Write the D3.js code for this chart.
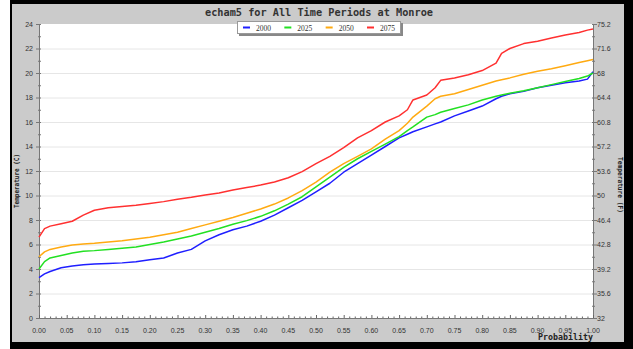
<!DOCTYPE html>
<html>
<head>
<meta charset="utf-8">
<script src="https://cdn.jsdelivr.net/npm/d3@7"></script>
<style>
body { margin: 0; background: #fff; }
svg { display: block; }
</style>
</head>
<body>
<svg id="chart"></svg>
<script>
// probability steps shared by all four periods
var prob = [0, 0.01, 0.02, 0.04, 0.06, 0.08, 0.10, 0.125, 0.15, 0.175, 0.20, 0.225, 0.25, 0.275, 0.30, 0.325, 0.35, 0.375, 0.40, 0.425, 0.45, 0.475, 0.50, 0.525, 0.55, 0.575, 0.60, 0.625, 0.65, 0.665, 0.675, 0.70, 0.715, 0.725, 0.75, 0.775, 0.80, 0.825, 0.835, 0.85, 0.875, 0.90, 0.925, 0.95, 0.975, 0.99, 1.0];

var t2000 = [3.3, 3.6, 3.8, 4.1, 4.25, 4.35, 4.4, 4.45, 4.5, 4.6, 4.75, 4.9, 5.3, 5.6, 6.3, 6.8, 7.2, 7.5, 7.9, 8.4, 9.0, 9.6, 10.3, 11.0, 11.9, 12.6, 13.3, 14.0, 14.7, 15.0, 15.2, 15.6, 15.85, 16.0, 16.5, 16.9, 17.3, 17.9, 18.1, 18.3, 18.5, 18.8, 19.0, 19.2, 19.35, 19.5, 20.1];
var t2025 = [4.0, 4.6, 4.9, 5.1, 5.3, 5.45, 5.5, 5.6, 5.7, 5.8, 6.0, 6.2, 6.45, 6.7, 7.0, 7.3, 7.65, 7.95, 8.3, 8.75, 9.3, 9.9, 10.7, 11.5, 12.3, 13.0, 13.6, 14.2, 14.8, 15.3, 15.6, 16.4, 16.6, 16.8, 17.1, 17.4, 17.8, 18.1, 18.2, 18.35, 18.55, 18.8, 19.05, 19.3, 19.55, 19.75, 20.0];
var t2050 = [5.0, 5.4, 5.6, 5.8, 5.95, 6.05, 6.1, 6.2, 6.3, 6.45, 6.6, 6.8, 7.0, 7.3, 7.6, 7.9, 8.2, 8.55, 8.9, 9.3, 9.8, 10.4, 11.1, 11.9, 12.6, 13.2, 13.8, 14.6, 15.3, 15.9, 16.4, 17.3, 17.9, 18.1, 18.3, 18.65, 19.0, 19.35, 19.45, 19.6, 19.9, 20.15, 20.35, 20.6, 20.85, 21.0, 21.1];
var t2075 = [6.6, 7.3, 7.5, 7.7, 7.9, 8.4, 8.8, 9.0, 9.1, 9.2, 9.35, 9.5, 9.7, 9.85, 10.05, 10.2, 10.45, 10.65, 10.85, 11.1, 11.45, 11.95, 12.6, 13.2, 13.9, 14.7, 15.3, 16.0, 16.5, 17.0, 17.8, 18.2, 18.8, 19.4, 19.6, 19.85, 20.2, 20.8, 21.6, 22.0, 22.4, 22.6, 22.85, 23.1, 23.3, 23.5, 23.6];

var periods = ['2000', '2025', '2050', '2075'];
var colors = ['#1f1fff', '#22e022', '#ffaa11', '#ff3030'];
var seriesValues = [t2000, t2025, t2050, t2075];

var xTicks = d3.range(0, 21).map(function(i) { return i * 0.05; });
var xMinor = d3.range(0, 101).map(function(i) { return i * 0.01; });
var cTicks = d3.range(0, 25, 2);
var cMinor = d3.range(1, 24, 2);
var fLabels = ['32', '35.6', '39.2', '42.8', '46.4', '50', '53.6', '57.2', '60.8', '64.4', '68', '71.6', '75.2'];

var W = 633, H = 349;
var pLeft = 39, pRight = 593, pTop = 24, pBottom = 318;

var svg = d3.select('#chart').attr('width', W).attr('height', H);

// frame
svg.append('rect').attr('x', 0).attr('y', 0).attr('width', W).attr('height', H).attr('fill', '#fff');
svg.append('rect').attr('x', 10).attr('y', 0).attr('width', W - 10).attr('height', H).attr('fill', '#000');
svg.append('rect').attr('x', 12).attr('y', 4).attr('width', 612).attr('height', 338).attr('fill', '#cbcbcb');
svg.append('rect').attr('x', pLeft).attr('y', pTop).attr('width', pRight - pLeft).attr('height', pBottom - pTop).attr('fill', '#fff');

var x = d3.scaleLinear().domain([0, 1]).range([pLeft, pRight]);
var y = d3.scaleLinear().domain([0, 24]).range([pBottom, pTop]);

// grid
svg.append('g').selectAll('line').data(cTicks.slice(1, -1)).enter().append('line')
    .attr('x1', pLeft).attr('x2', pRight)
    .attr('y1', function(d) { return y(d) + 0.5; }).attr('y2', function(d) { return y(d) + 0.5; })
    .attr('stroke', '#e6e6e6').attr('stroke-width', 1);

// axes lines
var axisColor = '#777';
svg.append('line').attr('x1', pLeft + 0.5).attr('x2', pLeft + 0.5).attr('y1', pTop).attr('y2', pBottom + 0.5).attr('stroke', axisColor);
svg.append('line').attr('x1', pRight + 0.5).attr('x2', pRight + 0.5).attr('y1', pTop).attr('y2', pBottom + 0.5).attr('stroke', axisColor);
svg.append('line').attr('x1', pLeft).attr('x2', pRight + 1).attr('y1', pBottom + 0.5).attr('y2', pBottom + 0.5).attr('stroke', axisColor);

// y ticks both sides
var yt = svg.append('g').attr('stroke', axisColor);
cTicks.forEach(function(d) {
    yt.append('line').attr('x1', pLeft - 3).attr('x2', pLeft + 2).attr('y1', y(d) + 0.5).attr('y2', y(d) + 0.5);
    yt.append('line').attr('x1', pRight - 1).attr('x2', pRight + 4).attr('y1', y(d) + 0.5).attr('y2', y(d) + 0.5);
});
cMinor.forEach(function(d) {
    yt.append('line').attr('x1', pLeft - 1).attr('x2', pLeft + 2).attr('y1', y(d) + 0.5).attr('y2', y(d) + 0.5);
    yt.append('line').attr('x1', pRight - 1).attr('x2', pRight + 2).attr('y1', y(d) + 0.5).attr('y2', y(d) + 0.5);
});

// x ticks pointing up
var xt = svg.append('g').attr('stroke', '#666');
xMinor.forEach(function(d, i) {
    var len = (i % 5 === 0) ? 3 : 1.5;
    xt.append('line').attr('x1', x(d) + 0.5).attr('x2', x(d) + 0.5).attr('y1', pBottom).attr('y2', pBottom - len);
});

var tickFont = 'Liberation Sans, Arial, sans-serif';
svg.append('g').selectAll('text').data(xTicks).enter().append('text')
    .attr('x', function(d) { return x(d); }).attr('y', 333)
    .attr('text-anchor', 'middle').attr('font-family', tickFont).attr('font-size', 7).attr('fill', '#333')
    .text(function(d) { return d.toFixed(2); });

svg.append('g').selectAll('text').data(cTicks).enter().append('text')
    .attr('x', 33).attr('y', function(d) { return y(d) + 2.5; })
    .attr('text-anchor', 'end').attr('font-family', tickFont).attr('font-size', 7).attr('fill', '#333')
    .text(function(d) { return d; });

svg.append('g').selectAll('text').data(cTicks).enter().append('text')
    .attr('x', 597).attr('y', function(d) { return y(d) + 2.5; })
    .attr('font-family', tickFont).attr('font-size', 7).attr('fill', '#333')
    .text(function(d, i) { return fLabels[i]; });

// titles
var mono = 'DejaVu Sans Mono, monospace';
svg.append('text').attr('x', 319).attr('y', 16).attr('text-anchor', 'middle')
    .attr('font-family', mono).attr('font-weight', 'bold').attr('font-size', 10).attr('fill', '#333')
    .attr('textLength', 228).attr('lengthAdjust', 'spacingAndGlyphs')
    .text('echam5 for All Time Periods at Monroe');
svg.append('text').attr('transform', 'translate(19,181) rotate(-90)').attr('text-anchor', 'middle')
    .attr('font-family', mono).attr('font-weight', 'bold').attr('font-size', 7).attr('fill', '#222')
    .attr('textLength', 54).attr('lengthAdjust', 'spacingAndGlyphs')
    .text('Temperature (C)');
svg.append('text').attr('transform', 'translate(618,185) rotate(90)').attr('text-anchor', 'middle')
    .attr('font-family', mono).attr('font-weight', 'bold').attr('font-size', 7).attr('fill', '#222')
    .attr('textLength', 56).attr('lengthAdjust', 'spacingAndGlyphs')
    .text('Temperature (F)');
svg.append('text').attr('x', 593).attr('y', 340).attr('text-anchor', 'end')
    .attr('font-family', mono).attr('font-weight', 'bold').attr('font-size', 8).attr('fill', '#222')
    .attr('textLength', 55).attr('lengthAdjust', 'spacingAndGlyphs')
    .text('Probability');

// series
var line = d3.line()
    .x(function(d, i) { return x(prob[i]); })
    .y(function(d) { return y(d); });
var lines = svg.append('g').attr('fill', 'none').attr('stroke-width', 1.5).attr('stroke-linejoin', 'round');
seriesValues.forEach(function(vals, k) {
    lines.append('path').attr('d', line(vals)).attr('stroke', colors[k]);
});

// legend
var lg = svg.append('g');
lg.append('rect').attr('x', 239).attr('y', 23).attr('width', 164).attr('height', 13).attr('fill', '#888');
lg.append('rect').attr('x', 237.5).attr('y', 21.5).attr('width', 163).attr('height', 12).attr('fill', '#fff').attr('stroke', '#999');
var lx = d3.scalePoint().domain(periods).range([243, 367]);
periods.forEach(function(p, k) {
    lg.append('rect').attr('x', lx(p)).attr('y', 26.5).attr('width', 7).attr('height', 2).attr('fill', colors[k]);
    lg.append('text').attr('x', lx(p) + 13).attr('y', 30.5)
        .attr('font-family', 'Liberation Serif, serif').attr('font-size', 7.5).attr('fill', '#333')
        .text(p);
});
</script>
</body>
</html>
